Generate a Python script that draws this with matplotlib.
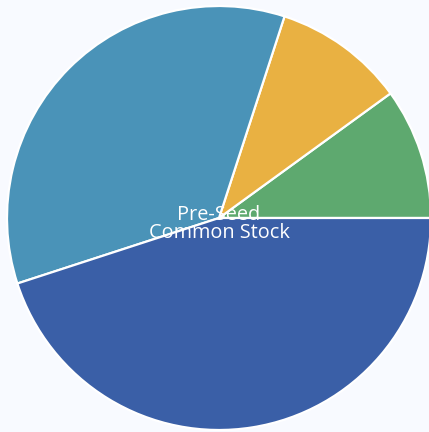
import numpy as np
import matplotlib
matplotlib.use("Agg")
import matplotlib.pyplot as plt

# Datos (porcentajes aproximados)
categorias = ["Option Pool", "Seed", "Founders", "Pre-Seed Common Stock"]
valores = [10, 10, 35, 45]
colores = ["#5ea96f", "#e9b142", "#4a93b8", "#3a5fa7"]

fig = plt.figure(figsize=(4.29, 4.32), dpi=100)
fig.patch.set_facecolor("#f8faff")
ax = fig.add_axes([0, 0, 1, 1])
ax.set_facecolor("#f8faff")

# Ejes en píxeles para ubicar el pastel
ax.set_xlim(0, 429)
ax.set_ylim(0, 432)
ax.set_aspect("equal")
ax.axis("off")

ax.pie(valores, colors=colores, startangle=0, counterclock=True,
       center=(219, 432 - 218), radius=212,
       wedgeprops=dict(edgecolor="white", linewidth=1.6))

ax.set_xlim(0, 429)
ax.set_ylim(0, 432)

ax.text(219, 432 - 224, "Pre-Seed\nCommon Stock", color="white",
        fontsize=14.3, family="Open Sans", ha="center", va="center",
        linespacing=0.9)

fig.savefig("out.png", dpi=100, facecolor=fig.get_facecolor())
